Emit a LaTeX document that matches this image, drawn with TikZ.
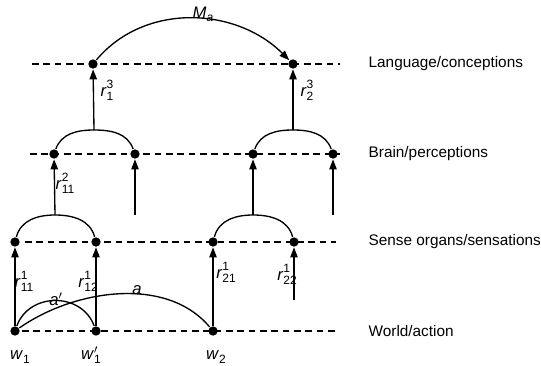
\documentclass[tikz,border=0pt]{standalone}
\usepackage{fontspec}
\setmainfont{Liberation Sans}
\usetikzlibrary{arrows.meta}
\tikzset{
  dot/.style={circle,fill,inner sep=0pt,minimum size=7pt},
  layer/.style={dash pattern=on 5pt off 3.5pt,line width=0.8pt},
  up/.style={-{Triangle[width=5.5pt,length=7.5pt]}},
  lab/.style={font=\fontsize{11.5}{13}\selectfont,anchor=west,inner sep=0pt},
  sym/.style={font=\fontsize{12.5}{14}\selectfont,inner sep=0pt}
}
\newcommand{\idx}[1]{{\fontsize{9}{9}\selectfont #1}}
\newcommand{\rl}[3]{\textit{#1}\rlap{\raisebox{6pt}{\idx{#2}}}\raisebox{-3pt}{\idx{#3}}}

\begin{document}
\begin{tikzpicture}[x=0.75pt,y=-0.75pt,line width=1pt]
    \useasboundingbox (0,0) rectangle (541,366);
    % levels
    \draw[layer] (32,64) -- (340,64);
    \draw[layer] (30,154) -- (340,154);
    \draw[layer] (25,242) -- (336,242);
    \draw[layer] (22,331) -- (336,331);
    \node[lab] (lang) at (368,64) {Language/conceptions};
    \node[lab] (brain) at (368,154) {Brain/perceptions};
    \node[lab] (sense) at (368,242) {Sense organs/sensations};
    \node[lab] (world) at (368,331) {World/action};
    % dots
    \node[dot] (L1) at (93,64) {};
    \node[dot] (L2) at (293,64) {};
    \node[dot] (B1) at (54,154) {};
    \node[dot] (B2) at (135,154) {};
    \node[dot] (B3) at (253,154) {};
    \node[dot] (B4) at (333,154) {};
    \node[dot] (S1) at (15,242) {};
    \node[dot] (S2) at (96,242) {};
    \node[dot] (S3) at (213,242) {};
    \node[dot] (S4) at (294,242) {};
    \node[dot] (W1) at (15,331) {};
    \node[dot] (W2) at (96,331) {};
    \node[dot] (W3) at (213,331) {};
    % arch tops and loose ends
    \coordinate (sa) at (55,215);
    \coordinate (sb) at (253,215);
    \coordinate (ba) at (94,130);
    \coordinate (bb) at (293,130);
    \coordinate (f1) at (135,215);
    \coordinate (f2) at (333,215);
    \coordinate (f3) at (294,300);
    % arches
    \draw (S1) to[out=75,in=180] (sa) to[out=0,in=105] (S2);
    \draw (S3) to[out=75,in=180] (sb) to[out=0,in=105] (S4);
    \draw (B1) to[out=70,in=180] (ba) to[out=0,in=110] (B2);
    \draw (B3) to[out=70,in=180] (bb) to[out=0,in=110] (B4);
    % upward arrows
    \draw[up] (W1) -- (S1);
    \draw[up] (W2) -- (S2);
    \draw[up] (W3) -- (S3);
    \draw[up] (f3) -- (S4);
    \draw[up] (sa) -- (B1);
    \draw[up] (f1) -- (B2);
    \draw[up] (sb) -- (B3);
    \draw[up] (f2) -- (B4);
    \draw[up] (ba) -- (L1);
    \draw[up] (bb) -- (L2);
    % actions and mapping
    \draw (W1) to[out=70,in=110,looseness=1.2] (W2);
    \draw (W1) to[out=35,in=130,looseness=0.9] (W3);
    \draw[up] (L1) to[out=50,in=135] (L2);
    % labels
    \node[sym] (ma) at (203,14) {\textit{M}\raisebox{-2.5pt}{\idx{\textit{a}}}};
    \node[sym] (r31) at (107,90) {\rl{r}{3}{1}};
    \node[sym] (r32) at (307,90) {\rl{r}{3}{2}};
    \node[sym] (r211) at (65,183) {\rl{r}{2}{11}};
    \node[sym] (r111) at (24,281) {\rl{r}{1}{11}};
    \node[sym] (r112) at (88,281) {\rl{r}{1}{12}};
    \node[sym] (r121) at (226,272) {\rl{r}{1}{21}};
    \node[sym] (r122) at (287,274) {\rl{r}{1}{22}};
    \node[sym] (ap) at (56,299) {\textit{a}$'$};
    \node[sym] (aa) at (137,290) {\textit{a}};
    \node[sym,anchor=base] (w1) at (20,359) {\textit{w}\raisebox{-3pt}{\idx{1}}};
    \node[sym,anchor=base] (w1p) at (91,359) {\textit{w}\rlap{$'$}\raisebox{-3pt}{\idx{1}}};
    \node[sym,anchor=base] (w2) at (216,359) {\textit{w}\raisebox{-3pt}{\idx{2}}};
\end{tikzpicture}
\end{document}
